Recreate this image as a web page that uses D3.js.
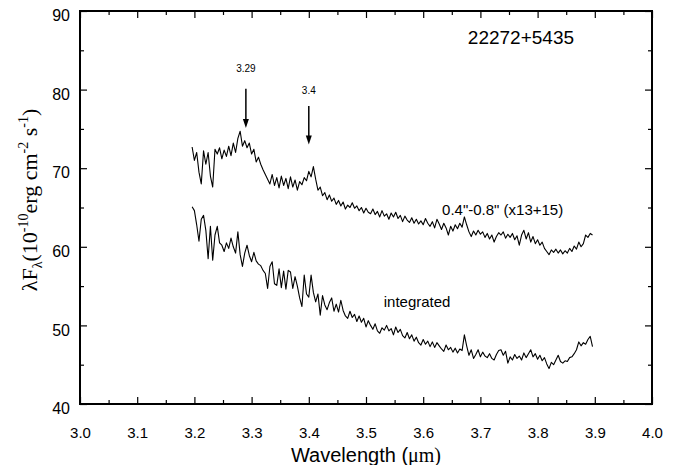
<!DOCTYPE html>
<html>
<head>
<meta charset="utf-8">
<script src="https://cdn.jsdelivr.net/npm/d3@7"></script>
<style>
  body { margin: 0; background: #fff; }
  text { font-family: "Liberation Sans", Arial, sans-serif; fill: #000; }
</style>
</head>
<body>
<div id="my_dataviz"></div>
<script>
// set the dimensions and margins of the graph
var margin = {top: 11, right: 25, bottom: 61, left: 80},
    width = 677 - margin.left - margin.right,
    height = 465 - margin.top - margin.bottom;

// wavelength grid of the spectra (micron)
var wlStart = 3.196, wlStep = 0.004;

// 0.4"-0.8" spectrum (scaled x13+15)
var upperFlux = [
  72.7, 71.0, 72.0, 69.5, 68.0, 72.2, 70.5, 72.0, 69.0, 67.6,
  72.4, 71.8, 72.6, 71.2, 72.3, 71.5, 72.8, 71.6, 73.2, 72.0,
  73.8, 74.7, 72.8, 73.5, 72.6, 73.2, 71.8, 72.4, 70.8, 71.4,
  70.5, 69.8, 69.2, 68.6, 68.0, 69.2, 67.8, 68.8, 67.5, 69.0,
  67.8, 68.7, 67.4, 68.9, 67.6, 68.5, 67.2, 68.3, 67.9, 68.8,
  68.4, 69.6, 68.9, 70.2, 68.6, 67.2, 67.6, 66.5, 66.9, 66.0,
  66.6, 65.8, 66.2, 65.4, 65.9, 65.2, 65.7, 64.8, 65.3, 65.0,
  65.6, 64.9, 65.2, 64.6, 65.0, 64.3, 64.9, 64.4, 64.2, 64.8,
  64.1, 64.5, 63.8, 64.6, 63.9, 64.2, 63.5, 64.3, 63.8, 64.4,
  63.6, 64.0, 63.2, 63.9, 63.4, 63.1, 63.7, 63.0, 63.5, 62.9,
  63.3, 62.8, 63.6, 63.0, 62.6, 63.2, 62.4, 63.5, 62.9, 62.2,
  63.0, 62.4, 61.5, 62.6, 62.0, 62.8, 62.3, 63.0, 62.5, 63.8,
  62.8, 61.9, 61.3, 62.0, 61.5, 62.1, 61.6, 61.9, 61.2, 61.7,
  61.0, 61.5, 60.6, 61.3, 61.8, 61.5, 61.9, 61.1, 61.6, 61.2,
  61.7, 60.9, 61.4, 60.2, 61.5, 62.1, 61.0, 61.8, 60.6, 61.3,
  60.4, 60.9, 60.2, 60.6, 59.8, 59.4, 59.0, 59.6, 59.3, 59.7,
  59.2, 59.6, 59.1, 59.5, 59.2, 59.8, 59.4, 60.1, 59.7, 60.6,
  60.0, 60.4, 61.5, 61.2, 61.7, 61.5
];

// integrated spectrum
var lowerFlux = [
  65.1, 64.6, 62.8, 60.7, 63.5, 64.0, 62.1, 58.5, 62.6, 58.3,
  61.5, 62.6, 60.5, 60.2, 59.4, 60.5, 59.8, 61.1, 60.0, 59.2,
  61.9, 59.0, 57.5, 59.2, 60.2, 58.9, 58.1, 59.3, 58.2, 57.8,
  57.6, 57.0, 56.6, 54.7, 57.5, 58.1, 55.3, 55.1, 57.2, 54.8,
  56.9, 54.6, 57.0, 56.8, 54.7, 56.2, 55.0, 53.5, 52.4, 56.4,
  54.0, 53.6, 56.4, 54.2, 53.0, 54.0, 51.3, 53.8, 52.6, 52.0,
  52.9, 53.5, 51.8, 52.7, 51.7, 53.2, 51.9, 51.2, 50.9, 51.8,
  51.0, 51.4, 50.5, 51.2, 50.4, 50.9, 49.8, 50.6, 50.0, 49.5,
  50.2, 49.3, 49.0, 49.7, 49.4, 50.0, 49.3, 49.6, 48.8, 49.8,
  49.1, 49.5, 48.7, 48.4, 49.1, 48.3, 48.8, 48.0, 48.5, 47.8,
  47.5, 48.2, 47.6, 48.0, 47.3, 47.9, 47.2, 47.8, 47.4, 47.0,
  46.7, 47.5, 46.9, 47.2, 46.6, 47.1, 46.5, 47.0, 46.8, 48.8,
  47.4, 46.2, 46.9, 45.8, 46.3, 46.9, 46.0, 46.6, 46.1, 45.9,
  46.4, 45.8, 45.6, 46.3, 46.8, 46.9, 46.2, 46.7, 45.2, 46.0,
  45.6, 46.3, 45.8, 46.1, 45.6, 46.5, 45.9, 46.4, 46.9, 46.0,
  46.4, 45.7, 46.2, 45.5, 45.9, 45.1, 44.5, 45.3, 45.0, 45.6,
  46.2, 45.4, 45.2, 45.5, 45.4, 45.9, 46.0, 46.4, 46.9, 47.9,
  47.4, 47.8, 47.6, 48.2, 48.6, 47.3
];

// tick values
var xTicks = [3.0, 3.1, 3.2, 3.3, 3.4, 3.5, 3.6, 3.7, 3.8, 3.9, 4.0];
var xMinorTicks = [3.05, 3.15, 3.25, 3.35, 3.45, 3.55, 3.65, 3.75, 3.85, 3.95];
var yTicks = [40, 50, 60, 70, 80, 90];
var yMinorTicks = [45, 55, 65, 75, 85];

// feature markers: wavelength, label, arrow top, arrow tip, label baseline
var featureWl = [3.29, 3.4];
var featureLabels = ["3.29", "3.4"];
var arrowTop = [80.1, 77.9];
var arrowTip = [75.1, 73.0];
var labelAt = [82.3, 79.4];

var svg = d3.select("#my_dataviz")
  .append("svg")
    .attr("width", width + margin.left + margin.right)
    .attr("height", height + margin.top + margin.bottom)
  .append("g")
    .attr("transform", "translate(" + margin.left + "," + margin.top + ")");

var x = d3.scaleLinear().domain([3.0, 4.0]).range([0, width]);
var y = d3.scaleLinear().domain([40, 90]).range([height, 0]);

function toPoints(flux) {
  return flux.map(function(v, i) { return {x: wlStart + i * wlStep, y: v}; });
}

// axes, ticks pointing inward
function styleAxis(g) {
  g.select(".domain").remove();
  g.selectAll("line").attr("stroke", "#000").attr("stroke-width", 1.2);
  g.selectAll("text").style("font-family", "Liberation Sans, Arial, sans-serif");
}

svg.append("g")
  .attr("transform", "translate(0," + height + ")")
  .call(d3.axisBottom(x).tickValues(xTicks).tickFormat(d3.format(".1f"))
        .tickSize(-7).tickSizeOuter(0).tickPadding(23))
  .call(styleAxis)
  .selectAll("text").style("font-size", "15px");

svg.append("g")
  .attr("transform", "translate(0," + height + ")")
  .call(d3.axisBottom(x).tickValues(xMinorTicks).tickFormat("").tickSize(-4).tickSizeOuter(0))
  .call(styleAxis);

svg.append("g")
  .call(d3.axisTop(x).tickValues(xTicks).tickFormat("").tickSize(-7).tickSizeOuter(0))
  .call(styleAxis);
svg.append("g")
  .call(d3.axisTop(x).tickValues(xMinorTicks).tickFormat("").tickSize(-4).tickSizeOuter(0))
  .call(styleAxis);

svg.append("g")
  .call(d3.axisLeft(y).tickValues(yTicks).tickFormat(d3.format("d"))
        .tickSize(-7).tickSizeOuter(0).tickPadding(10))
  .call(styleAxis)
  .selectAll("text").style("font-size", "16px").attr("dy", "0.6em");
svg.append("g")
  .call(d3.axisLeft(y).tickValues(yMinorTicks).tickFormat("").tickSize(-4).tickSizeOuter(0))
  .call(styleAxis);

svg.append("g")
  .attr("transform", "translate(" + width + ",0)")
  .call(d3.axisRight(y).tickValues(yTicks).tickFormat("").tickSize(-7).tickSizeOuter(0))
  .call(styleAxis);
svg.append("g")
  .attr("transform", "translate(" + width + ",0)")
  .call(d3.axisRight(y).tickValues(yMinorTicks).tickFormat("").tickSize(-4).tickSizeOuter(0))
  .call(styleAxis);

// frame
svg.append("rect")
  .attr("width", width)
  .attr("height", height)
  .attr("fill", "none")
  .attr("stroke", "#000")
  .attr("stroke-width", 2);

// spectra
var line = d3.line()
  .x(function(d) { return x(d.x); })
  .y(function(d) { return y(d.y); });

[upperFlux, lowerFlux].forEach(function(flux) {
  svg.append("path")
    .datum(toPoints(flux))
    .attr("fill", "none")
    .attr("stroke", "#000")
    .attr("stroke-width", 1.1)
    .attr("stroke-linejoin", "round")
    .attr("d", line);
});

// feature arrows
featureWl.forEach(function(wl, i) {
  var xp = x(wl), y0 = y(arrowTop[i]), y1 = y(arrowTip[i]);
  svg.append("line")
    .attr("x1", xp).attr("x2", xp)
    .attr("y1", y0).attr("y2", y1 - 6)
    .attr("stroke", "#000").attr("stroke-width", 1.5);
  svg.append("path")
    .attr("d", "M" + (xp - 3) + "," + (y1 - 9) + "L" + (xp + 3) + "," + (y1 - 9) + "L" + xp + "," + y1 + "Z")
    .attr("fill", "#000");
  svg.append("text")
    .attr("x", xp)
    .attr("y", y(labelAt[i]))
    .attr("text-anchor", "middle")
    .style("font-size", "10px")
    .text(featureLabels[i]);
});

// annotations
svg.append("text")
  .attr("x", x(3.678))
  .attr("y", y(85.85))
  .style("font-size", "19px")
  .text("22272+5435");

svg.append("text")
  .attr("x", x(3.633))
  .attr("y", y(64.1))
  .style("font-size", "15px")
  .text("0.4\"-0.8\" (x13+15)");

svg.append("text")
  .attr("x", x(3.531))
  .attr("y", y(52.4))
  .style("font-size", "15px")
  .text("integrated");

// text label for the x axis
var xl = svg.append("text")
  .attr("x", width / 2)
  .attr("y", height + 58)
  .attr("text-anchor", "middle")
  .style("font-size", "20px");
xl.append("tspan").text("Wavelength (");
xl.append("tspan").style("font-family", "Liberation Serif, serif").text("\u03bcm");
xl.append("tspan").style("font-family", "Liberation Serif, serif").text(")");

// text label for the y axis
var yl = svg.append("text")
  .attr("transform", "rotate(-90)")
  .attr("x", -200 + margin.top)
  .attr("y", 37 - margin.left)
  .attr("text-anchor", "middle")
  .style("font-family", "Liberation Serif, serif")
  .style("font-size", "22px");
yl.append("tspan").text("\u03bbF");
yl.append("tspan").attr("dy", 5).style("font-size", "14px").text("\u03bb");
yl.append("tspan").attr("dy", -5).text("(10");
yl.append("tspan").attr("dy", -9).style("font-size", "14px").text("-10");
yl.append("tspan").attr("dy", 9).text("erg cm");
yl.append("tspan").attr("dy", -9).style("font-size", "14px").text("-2");
yl.append("tspan").attr("dy", 9).text(" s");
yl.append("tspan").attr("dy", -9).style("font-size", "14px").text("-1");
yl.append("tspan").attr("dy", 9).text(")");
</script>
</body>
</html>
